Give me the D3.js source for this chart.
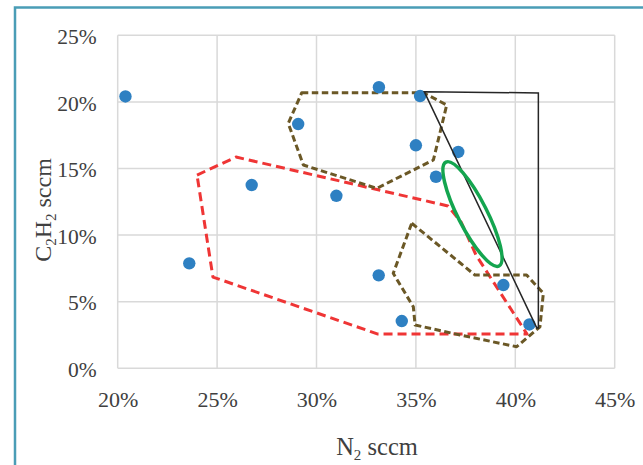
<!DOCTYPE html>
<html>
<head>
<meta charset="utf-8">
<script src="https://cdn.jsdelivr.net/npm/d3@7"></script>
<style>
  html, body { margin: 0; padding: 0; background: #fff; }
  svg { display: block; }
  text { font-family: "Liberation Serif", "DejaVu Serif", serif; fill: #404040; }
</style>
</head>
<body>
<svg id="chart" width="643" height="465"></svg>
<script>
// Measured gas ratios (fraction of total flow)
const n2 = [0.2039, 0.2360, 0.2674, 0.2908, 0.3100, 0.3314, 0.3313, 0.3429, 0.3521, 0.3500, 0.3601, 0.3713, 0.3940, 0.4071];
const c2h2 = [0.2041, 0.0788, 0.1376, 0.1834, 0.1295, 0.2110, 0.0698, 0.0355, 0.2044, 0.1674, 0.1438, 0.1624, 0.0625, 0.0329];

const xTicks = [0.20, 0.25, 0.30, 0.35, 0.40, 0.45];
const yTicks = [0, 0.05, 0.10, 0.15, 0.20, 0.25];

// Process-window outlines, as [N2, C2H2] vertices
const redRegion = [[0.2399, 0.1451], [0.2595, 0.1586], [0.3661, 0.1219], [0.3727, 0.1099], [0.3802, 0.0851], [0.4059, 0.0257], [0.3309, 0.0257], [0.2479, 0.0685]];
const brownUpper = [[0.2926, 0.2069], [0.3537, 0.2069], [0.3655, 0.1977], [0.3588, 0.1564], [0.3303, 0.1351], [0.2934, 0.1526], [0.2858, 0.1839]];
const brownLower = [[0.3479, 0.1089], [0.3797, 0.0700], [0.4057, 0.0700], [0.4141, 0.0563], [0.4124, 0.0312], [0.4007, 0.0162], [0.3722, 0.0250], [0.3496, 0.0325], [0.3487, 0.0462], [0.3386, 0.0713]];
const blackTriangle = [[0.3542, 0.2077], [0.4116, 0.2067], [0.4116, 0.0303], [0.4108, 0.0303]];
// Optimum ellipse: ends of its long axis
const ellipseAxis = [[0.3651, 0.1548], [0.3918, 0.0768]];

const svg = d3.select("#chart");
const margin = { left: 117.7, right: 643 - 614.7, top: 35.3, bottom: 465 - 368.3 };
const x = d3.scaleLinear().domain([0.20, 0.45]).range([margin.left, 643 - margin.right]);
const y = d3.scaleLinear().domain([0, 0.25]).range([465 - margin.bottom, margin.top]);

// Outer frame
svg.append("rect")
  .attr("x", 15).attr("y", 7.5).attr("width", 700).attr("height", 600)
  .attr("fill", "none").attr("stroke", "#4a9db6").attr("stroke-width", 2.5);

// Grid
const grid = svg.append("g").attr("stroke", "#d9d9d9").attr("stroke-width", 1.5);
grid.selectAll(".gx").data(xTicks).join("line")
  .attr("x1", d => x(d)).attr("x2", d => x(d))
  .attr("y1", y(0)).attr("y2", y(0.25));
grid.selectAll(".gy").data(yTicks).join("line")
  .attr("x1", x(0.20)).attr("x2", x(0.45))
  .attr("y1", d => y(d)).attr("y2", d => y(d));

const pct = d3.format(".0%");

// Axes (labels only; the frame lines come from the grid)
const xAxis = svg.append("g")
  .attr("transform", `translate(0,${y(0)})`)
  .call(d3.axisBottom(x).tickValues(xTicks).tickFormat(pct).tickSize(0).tickPadding(23));
xAxis.select(".domain").remove();
xAxis.selectAll("text").attr("font-size", 22).attr("font-family", "Liberation Serif").attr("fill", "#404040");

const yAxis = svg.append("g")
  .attr("transform", `translate(${x(0.20)},0)`)
  .call(d3.axisLeft(y).tickValues(yTicks).tickFormat(pct).tickSize(0).tickPadding(21));
yAxis.select(".domain").remove();
yAxis.selectAll("text").attr("font-size", 21.5).attr("font-family", "Liberation Serif").attr("fill", "#404040")
  .attr("dy", "0.38em");

// Axis titles
const xt = svg.append("text")
  .attr("x", 377).attr("y", 455)
  .attr("text-anchor", "middle").attr("font-size", 24.5);
xt.append("tspan").text("N");
xt.append("tspan").text("2").attr("font-size", 15).attr("dy", 5);
xt.append("tspan").text(" sccm").attr("dy", -5);

const yt = svg.append("text")
  .attr("transform", `translate(51,210) rotate(-90)`)
  .attr("text-anchor", "middle").attr("font-size", 24);
yt.append("tspan").text("C");
yt.append("tspan").text("2").attr("font-size", 15).attr("dy", 4.5);
yt.append("tspan").text("H").attr("dy", -4.5);
yt.append("tspan").text("2").attr("font-size", 15).attr("dy", 4.5);
yt.append("tspan").text(" sccm").attr("dy", -4.5);

const line = d3.line().x(d => x(d[0])).y(d => y(d[1])).curve(d3.curveLinearClosed);

// Outlined regions
svg.append("path").attr("d", line(redRegion))
  .attr("fill", "none").attr("stroke", "#ef3535").attr("stroke-width", 3)
  .attr("stroke-dasharray", "9,5").attr("stroke-linejoin", "round");
[brownUpper, brownLower].forEach(poly => {
  svg.append("path").attr("d", line(poly))
    .attr("fill", "none").attr("stroke", "#6b5826").attr("stroke-width", 3)
    .attr("stroke-dasharray", "6.5,3.5").attr("stroke-linejoin", "round");
});

// Data points
svg.append("g").selectAll("circle").data(n2.map((v, i) => [v, c2h2[i]])).join("circle")
  .attr("cx", d => x(d[0])).attr("cy", d => y(d[1])).attr("r", 6.2)
  .attr("fill", "#2e80c2");

svg.append("path").attr("d", line(blackTriangle))
  .attr("fill", "none").attr("stroke", "#262626").attr("stroke-width", 1.5);

// Optimum ellipse
{
  const [p0, p1] = ellipseAxis.map(d => [x(d[0]), y(d[1])]);
  const cx = (p0[0] + p1[0]) / 2, cy = (p0[1] + p1[1]) / 2;
  const rx = Math.hypot(p1[0] - p0[0], p1[1] - p0[1]) / 2;
  const ang = Math.atan2(p1[1] - p0[1], p1[0] - p0[0]) * 180 / Math.PI;
  svg.append("ellipse")
    .attr("transform", `translate(${cx},${cy}) rotate(${ang})`)
    .attr("rx", rx).attr("ry", 14.5)
    .attr("fill", "none").attr("stroke", "#14a54f").attr("stroke-width", 3.5);
}
</script>
</body>
</html>
